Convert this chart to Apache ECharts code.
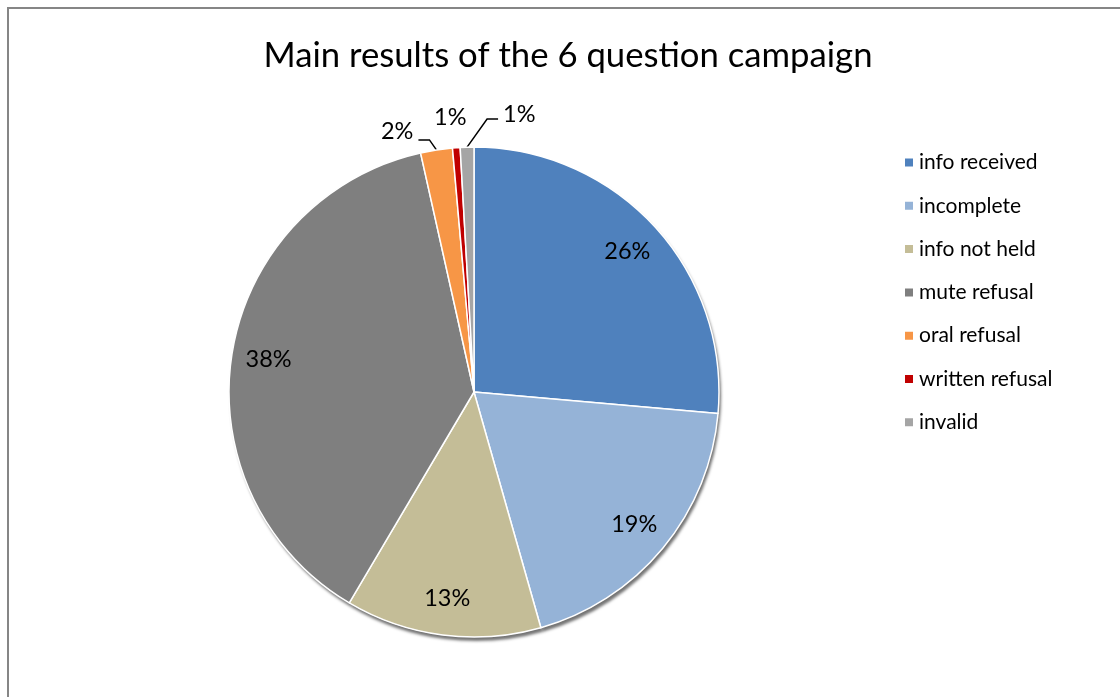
<!DOCTYPE html>
<html>
<head>
<meta charset="utf-8">
<title>Main results of the 6 question campaign</title>
<script src="https://cdn.jsdelivr.net/npm/echarts@6/dist/echarts.min.js"></script>
<style>
  html, body { margin: 0; padding: 0; background: #fff; }
  #chart { width: 1120px; height: 697px; }
</style>
</head>
<body>
<div id="chart"></div>
<script>
// Outcome categories of the campaign and their share (%)
const categories = ['info received', 'incomplete', 'info not held', 'mute refusal', 'oral refusal', 'written refusal', 'invalid'];
const shares = [26.4, 19.2, 12.9, 38.0, 2.1, 0.5, 0.9];
const colors = ['#4F81BD', '#95B3D7', '#C4BD97', '#7F7F7F', '#F79646', '#C00000', '#A5A5A5'];
// slices too thin to carry their label inside
const smallThreshold = 5;

const FONT = 'Lato, "Open Sans", sans-serif';
const R = 245;

const pct = v => Math.round(v) + '%';

// Leader-line shape for the thin slices: elbow offset from the slice rim,
// horizontal run after the elbow (sign = direction), and label lift.
const leaderStyle = {
  'oral refusal':    { elbow: [-7, -10], run: -11, lift: -8, line: true },
  'written refusal': { elbow: [-6, -22], run: 0,   lift: -8, line: false },
  'invalid':         { elbow: [20, -28], run: 11,  lift: -5, line: true }
};

const mainData = categories.map((name, i) => ({
  name,
  value: shares[i],
  itemStyle: { color: colors[i] },
  label: { show: shares[i] < smallThreshold, position: 'outside' },
  labelLine: { show: shares[i] < smallThreshold && leaderStyle[name] ? leaderStyle[name].line : false }
}));

const shadowData = categories.map((name, i) => ({ name, value: shares[i] }));

const innerLabelData = categories.map((name, i) => ({
  name,
  value: shares[i],
  label: { show: shares[i] >= smallThreshold }
}));

const chart = echarts.init(document.getElementById('chart'), null, { renderer: 'canvas' });

chart.setOption({
  animation: false,
  backgroundColor: '#fff',
  title: {
    text: 'Main results of the 6 question campaign',
    left: 563,
    textAlign: 'center',
    top: 33,
    textStyle: { fontFamily: FONT, fontSize: 34.7, fontWeight: 'normal', color: '#000' }
  },
  legend: {
    orient: 'vertical',
    left: 903,
    top: 152,
    padding: 0,
    itemWidth: 10,
    itemHeight: 10,
    itemGap: 22.3,
    icon: 'rect',
    data: categories,
    textStyle: { fontFamily: FONT, fontSize: 21, color: '#000' }
  },
  graphic: [{
    type: 'rect',
    shape: { x: 8, y: 8, width: 1200, height: 800 },
    style: { fill: 'none', stroke: '#868686', lineWidth: 2 },
    silent: true,
    z: -1
  }],
  series: [
    {
      // coloured slices
      name: 'results',
      type: 'pie',
      z: 3,
      center: [474, 392],
      radius: [0, R],
      startAngle: 90,
      clockwise: true,
      silent: true,
      avoidLabelOverlap: false,
      itemStyle: { borderColor: '#fff', borderWidth: 1.5 },
      label: {
        fontFamily: FONT, fontSize: 23.5, color: '#000',
        formatter: p => pct(p.value)
      },
      labelLine: {
        length: 12, length2: 12,
        lineStyle: { color: '#000', width: 1.5 }
      },
      labelLayout: function (p) {
        const name = categories[p.dataIndex];
        const st = leaderStyle[name];
        if (!st || !p.labelLinePoints) return {};
        const rim = p.labelLinePoints[0];
        const elbow = [rim[0] + st.elbow[0], rim[1] + st.elbow[1]];
        const end = [elbow[0] + st.run, elbow[1]];
        const gap = st.run < 0 ? -5 : (st.run > 0 ? 5 : 0);
        return {
          x: end[0] + gap,
          y: end[1] + st.lift,
          align: st.run < 0 ? 'right' : (st.run > 0 ? 'left' : 'center'),
          verticalAlign: 'middle',
          labelLinePoints: [rim, elbow, end]
        };
      },
      data: mainData
    },
    {
      // drop shadow under the disc
      name: 'shadow',
      type: 'pie',
      z: 1,
      center: [474, 392],
      radius: [0, R],
      startAngle: 90,
      silent: true,
      legendHoverLink: false,
      label: { show: false },
      labelLine: { show: false },
      itemStyle: {
        color: '#fff',
        shadowColor: 'rgba(0,0,0,0.55)',
        shadowBlur: 3,
        shadowOffsetX: 2,
        shadowOffsetY: 4
      },
      data: shadowData
    },
    {
      // percentage labels of the larger slices
      name: 'labels',
      type: 'pie',
      z: 4,
      center: [474, 392],
      radius: [165, R],
      startAngle: 90,
      silent: true,
      legendHoverLink: false,
      itemStyle: { color: 'rgba(0,0,0,0)' },
      label: {
        position: 'inside',
        fontFamily: FONT, fontSize: 23.5, color: '#000',
        formatter: p => pct(p.value)
      },
      labelLine: { show: false },
      data: innerLabelData
    }
  ]
});
</script>
</body>
</html>
